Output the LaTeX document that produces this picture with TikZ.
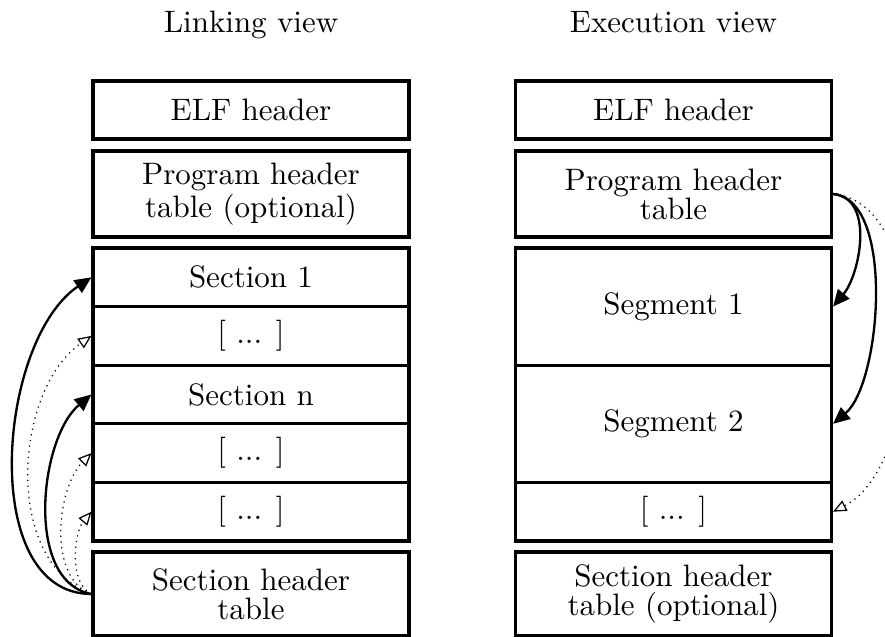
\documentclass[tikz,border=0pt]{standalone}
\usepackage{fontspec}
\usetikzlibrary{arrows.meta}
\def\u{0.3226pt}
\tikzset{
  box/.style={draw, line width=1pt, minimum width=316*\u, inner sep=0pt, align=center,
    font=\fontsize{10}{9.4}\selectfont},
  title/.style={anchor=base, font=\fontsize{10}{12}\selectfont},
  solidarr/.style={line width=0.75pt, -{Triangle[length=5.4pt,width=4.8pt]}},
  dotarr/.style={line width=0.4pt, dash pattern=on 0.4pt off 1.45pt, -{Triangle[open,length=4.3pt,width=3.7pt]}}
}
\begin{document}
\begin{tikzpicture}[x=\u,y=\u]
\useasboundingbox (0,0) rectangle (885,637);
% titles
\node[title] (t1) at (251,604) {Linking view};
\node[title] (t2) at (673.5,604) {Execution view};
% linking view
\node[box, minimum height=58*\u] (elf1) at (251,527) {ELF header};
\node[box, minimum height=86*\u] (pht1) at (251,443) {Program header\\table (optional)};
\node[box, minimum height=58.6*\u] (s1) at (251,359.7) {Section 1};
\node[box, minimum height=58.6*\u] (d1) at (251,301.1) {[ ... ]};
\node[box, minimum height=58.6*\u] (sn) at (251,242.5) {Section n};
\node[box, minimum height=58.6*\u] (d2) at (251,183.9) {[ ... ]};
\node[box, minimum height=58.6*\u] (d3) at (251,125.3) {[ ... ]};
\node[box, minimum height=84*\u] (sht1) at (251,43) {Section header\\table};
% execution view
\node[box, minimum height=58*\u] (elf2) at (673.5,527) {ELF header};
\node[box, minimum height=86*\u] (pht2) at (673.5,443) {Program header\\table};
\node[box, minimum height=117.2*\u] (g1) at (673.5,330.4) {Segment 1};
\node[box, minimum height=117.2*\u] (g2) at (673.5,213.2) {Segment 2};
\node[box, minimum height=58.6*\u] (d4) at (673.5,125.3) {[ ... ]};
\node[box, minimum height=84*\u] (sht2) at (673.5,43) {Section header\\table (optional)};
% left arrows
\draw[solidarr] (sht1.west) to[out=180,in=214,looseness=0.92] (s1.west);
\draw[dotarr] (sht1.west) to[out=160,in=215,looseness=0.94] (d1.west);
\draw[solidarr] (sht1.west) to[out=170,in=220,looseness=0.875] (sn.west);
\draw[dotarr] (sht1.west) to[out=160,in=225,looseness=0.87] (d2.west);
\draw[dotarr] (sht1.west) to[out=155,in=230,looseness=0.81] (d3.west);
% right arrows
\draw[solidarr] (pht2.east) to[out=-5,in=50,looseness=0.96] (g1.east);
\draw[solidarr] (pht2.east) to[out=-5,in=40,looseness=0.7] (g2.east);
\draw[dotarr] (pht2.east) to[out=-5,in=27,looseness=0.83] (d4.east);
\end{tikzpicture}
\end{document}
